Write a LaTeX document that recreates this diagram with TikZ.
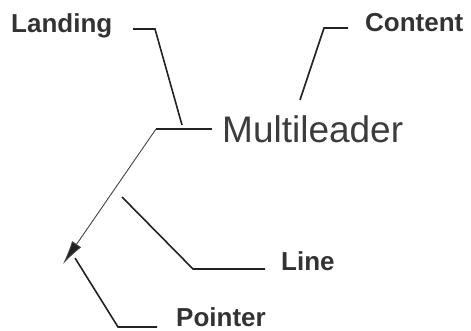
\documentclass[tikz,border=0pt]{standalone}
\usepackage{fontspec}
\setmainfont{Liberation Sans}
\usetikzlibrary{arrows.meta}
\definecolor{txtgray}{HTML}{333333}
\definecolor{mltgray}{HTML}{3C3C3C}
\definecolor{ldrgray}{HTML}{222222}
\begin{document}
\begin{tikzpicture}[x=1pt,y=-1pt,
  lbl/.style={font=\fontsize{26}{26}\selectfont\bfseries, text=txtgray, inner sep=0pt, anchor=base west},
  mlt/.style={font=\fontsize{37}{37}\selectfont, text=mltgray, inner sep=0pt, anchor=base west},
  leader/.style={line width=1.6pt, draw=ldrgray, line join=miter},
  arrline/.style={line width=0.9pt, draw=ldrgray!85, -{Latex[length=24pt,width=11pt,fill=ldrgray]}}]
\useasboundingbox (0,0) rectangle (471,331);
% texts
\node[lbl] (landing) at (11,33) {Landing};
\node[lbl] (content) at (365,31.5) {Content};
\node[mlt] (multi) at (222,143) {Multileader};
\node[lbl] (line) at (281,270) {Line};
\node[lbl, text depth=0pt] (pointer) at (176,326) {Pointer};
% leader points
\coordinate (la1) at (133,29);
\coordinate (la2) at (155,29);
\coordinate (la3) at (182,125);
\coordinate (co1) at (348,28);
\coordinate (co2) at (324,28);
\coordinate (co3) at (300,100);
\coordinate (li1) at (122,197);
\coordinate (li2) at (193,269);
\coordinate (li3) at (265,269);
\coordinate (po1) at (75,258);
\coordinate (po2) at (118,327);
\coordinate (po3) at (157,327);
\coordinate (ml1) at (212,129);
\coordinate (ml2) at (156,129);
\coordinate (tip) at (63,264);
% leaders
\draw[leader] (la1) -- (la2) -- (la3);
\draw[leader] (co1) -- (co2) -- (co3);
\draw[leader] (li1) -- (li2) -- (li3);
\draw[leader] (po1) -- (po2) -- (po3);
% multileader
\draw[leader] (ml1) -- (ml2);
\draw[arrline] (ml2) -- (tip);
\end{tikzpicture}
\end{document}
